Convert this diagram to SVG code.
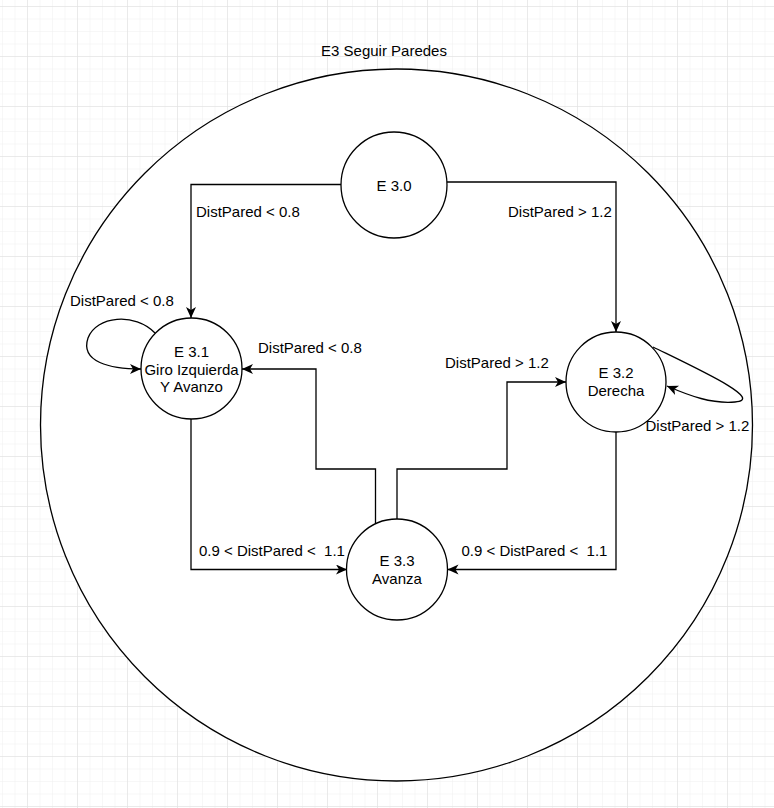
<svg xmlns="http://www.w3.org/2000/svg" width="774" height="808" viewBox="0 0 774 808">
<style>
.node{fill:#fff;stroke:#000;stroke-width:1.3}
.edge{fill:none;stroke:#000;stroke-width:1.3}
text{font-family:"Liberation Sans",Arial,sans-serif;font-size:15px;fill:#000}
.c{text-anchor:middle}
</style>
<defs>
<pattern id="minor" patternUnits="userSpaceOnUse" x="2" y="6" width="12.5" height="12.5">
<path d="M0,0 V12.5 M0,0 H12.5" stroke="#f0f0f0" stroke-width="1" fill="none"/>
</pattern>
<pattern id="major" patternUnits="userSpaceOnUse" x="27" y="6" width="50" height="50">
<path d="M0,0 V50 M0,0 H50" stroke="#dedede" stroke-width="1" fill="none"/>
</pattern>
<marker id="arr" markerUnits="userSpaceOnUse" markerWidth="14" markerHeight="12" refX="11" refY="5" orient="auto">
<path d="M0,0 L11,5 L0,10 L3,5 Z" fill="#000"/>
</marker>
</defs>
<rect width="774" height="808" fill="#fff"/>
<rect width="774" height="808" fill="url(#minor)"/>
<rect width="774" height="808" fill="url(#major)"/>

<g id="E3">
<circle class="node" cx="396.5" cy="425" r="356"/>
<text class="c" x="384" y="56">E3 Seguir Paredes</text>
</g>

<g id="connectors">
<path class="edge" d="M341,184.5 H191 V318" marker-end="url(#arr)"/>
<path class="edge" d="M447,182 H616 V332" marker-end="url(#arr)"/>
<path class="edge" d="M155,333 C135,312 96,316 88,338 C80,362 110,369 141,369" marker-end="url(#arr)"/>
<path class="edge" d="M653,347 C700,370 765,400 735,402 C712,404 690,396 667,386" marker-end="url(#arr)"/>
<path class="edge" d="M375.5,524.5 V469 H316 V369 H242" marker-end="url(#arr)"/>
<path class="edge" d="M397,519.5 V469 H507 V382 H566" marker-end="url(#arr)"/>
<path class="edge" d="M191,419 V569.5 H347" marker-end="url(#arr)"/>
<path class="edge" d="M616,432 V569.5 H447.5" marker-end="url(#arr)"/>
<text x="196" y="217">DistPared &lt; 0.8</text>
<text x="508" y="217">DistPared &gt; 1.2</text>
<text x="70" y="306">DistPared &lt; 0.8</text>
<text x="645.5" y="431">DistPared &gt; 1.2</text>
<text x="258" y="353">DistPared &lt; 0.8</text>
<text x="445" y="367.5">DistPared &gt; 1.2</text>
<text x="199" y="556" xml:space="preserve">0.9 &lt; DistPared &lt;  1.1</text>
<text x="461.5" y="556" xml:space="preserve">0.9 &lt; DistPared &lt;  1.1</text>
</g>

<g id="E30">
<circle class="node" cx="394" cy="185" r="53"/>
<text class="c" x="394" y="191">E 3.0</text>
</g>
<g id="E31">
<circle class="node" cx="191.5" cy="368.5" r="50.5"/>
<text class="c" x="191.5" y="357">E 3.1</text>
<text class="c" x="191.5" y="374.5">Giro Izquierda</text>
<text class="c" x="191.5" y="392">Y Avanzo</text>
</g>
<g id="E32">
<circle class="node" cx="616" cy="382" r="50"/>
<text class="c" x="616" y="378">E 3.2</text>
<text class="c" x="616" y="396">Derecha</text>
</g>
<g id="E33">
<circle class="node" cx="397" cy="569.5" r="50.5"/>
<text class="c" x="397" y="566">E 3.3</text>
<text class="c" x="397" y="583.5">Avanza</text>
</g>
</svg>
